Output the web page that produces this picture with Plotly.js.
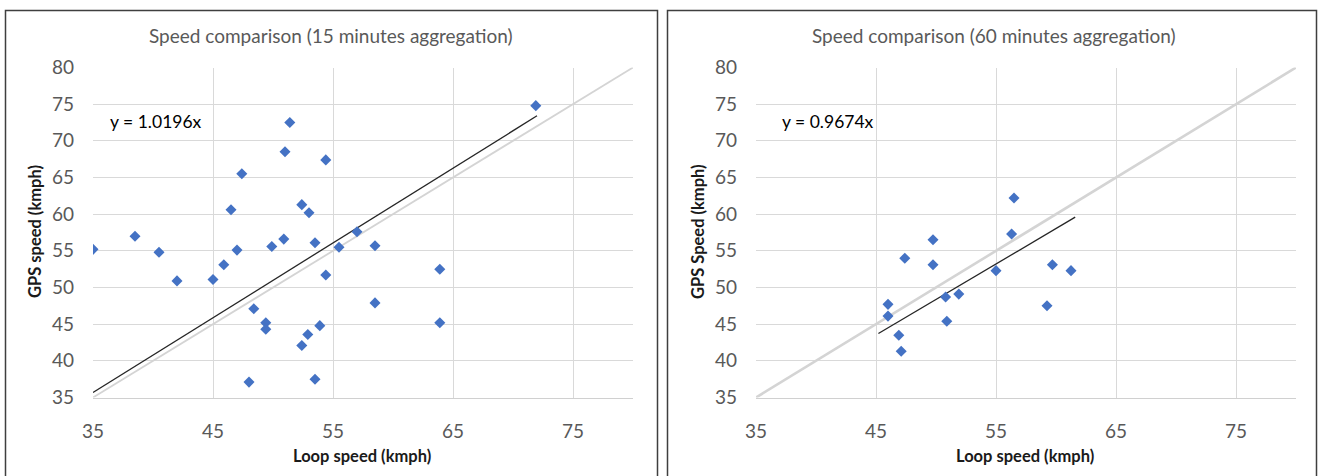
<!DOCTYPE html>
<html>
<head>
<meta charset="utf-8">
<script src="https://cdn.plot.ly/plotly-3.0.1.min.js"></script>
<style>html,body{margin:0;padding:0;background:#fff;}#chart{width:1320px;height:476px;}</style>
</head>
<body>
<div id="chart"></div>
<script>
// ---- data ----
const loop15 = [35.0,38.5,40.5,42.0,45.0,45.9,46.5,47.0,47.4,48.0,48.4,49.4,49.4,49.9,50.9,51.0,51.4,52.4,53.0,52.4,52.9,53.5,53.5,53.9,54.4,54.4,55.5,57.0,58.5,58.5,63.9,63.9,71.9];
const gps15  = [55.2,57.0,54.8,50.9,51.1,53.1,60.6,55.1,65.5,37.1,47.1,45.2,44.3,55.6,56.6,68.5,72.5,61.3,60.2,42.1,43.6,37.5,56.1,44.8,67.4,51.7,55.5,57.6,55.7,47.9,52.5,45.2,74.8];
const loop60 = [46.0,46.0,46.9,47.1,47.4,49.75,49.75,50.8,50.9,51.9,55.0,56.3,56.5,59.25,59.7,61.25];
const gps60  = [47.7,46.1,43.5,41.3,54.0,56.5,53.1,48.7,45.4,49.1,52.3,57.3,62.2,47.5,53.1,52.3];
const slope15 = 1.0196;
const slope60 = 0.9674;
const trendRange15 = [35.0, 72.0];
const trendRange60 = [45.2, 61.6];
const identityRange = [35, 80];
const xTicks = [35, 45, 55, 65, 75];
const titles = ["Speed comparison (15 minutes aggregation)", "Speed comparison (60 minutes aggregation)"];
const equations = ["y = " + slope15.toFixed(4) + "x", "y = " + slope60.toFixed(4) + "x"];
const xTitle = "Loop speed (kmph)";
const yTitles = ["GPS speed (kmph)", "GPS Speed (kmph)"];

const W = 1320, H = 476;
const px = v => v / W;
const py = v => 1 - v / H;
const FONT = "Lato, 'Open Sans', 'Liberation Sans', sans-serif";
const MARK = '#4472C4';

function traces(xs, ys, slope, tr, xa, ya, idWidth) {
  return [
    {x: identityRange, y: identityRange, mode: 'lines', line: {color: '#d4d4d4', width: idWidth}, xaxis: xa, yaxis: ya, hoverinfo: 'skip'},
    {x: tr, y: tr.map(v => v * slope), mode: 'lines', line: {color: '#262626', width: 1.3}, xaxis: xa, yaxis: ya},
    {x: xs, y: ys, mode: 'markers', marker: {symbol: 'diamond', size: 8.5, color: MARK}, xaxis: xa, yaxis: ya}
  ];
}

const data = [
  ...traces(loop15, gps15, slope15, trendRange15, 'x', 'y', 1.8),
  ...traces(loop60, gps60, slope60, trendRange60, 'x2', 'y2', 2.6)
];

const yDom = [py(397.5), py(67.5)];
function xAxis(dom, anchor) {
  return {domain: dom, anchor: anchor, range: [35, 80], tickvals: xTicks, showgrid: true,
    gridcolor: '#d9d9d9', gridwidth: 1, zeroline: false, showline: true, linecolor: '#d0d0d0', linewidth: 1.3,
    ticks: '', ticklabelstandoff: 16, tickfont: {family: FONT, size: 19, color: '#595959'}, fixedrange: true};
}
function yAxis(anchor) {
  return {domain: yDom, anchor: anchor, range: [35, 80], dtick: 5, tick0: 35, showgrid: true,
    gridcolor: '#d9d9d9', gridwidth: 1, zeroline: false, showline: false,
    ticks: '', ticklabelstandoff: 18, tickfont: {family: FONT, size: 19, color: '#595959'}, fixedrange: true};
}

const ann = [];
const panels = [{cx: 331, eqx: 108, ytx: 35, xtx: 362}, {cx: 994, eqx: 780, ytx: 698, xtx: 1025}];
panels.forEach((p, i) => {
  ann.push({xref: 'paper', yref: 'paper', x: px(p.cx), y: py(36), xanchor: 'center', yanchor: 'middle', showarrow: false,
    text: titles[i], font: {family: FONT, size: 19, color: '#595959'}});
  ann.push({xref: 'paper', yref: 'paper', x: px(p.eqx), y: py(121), xanchor: 'left', yanchor: 'middle', showarrow: false,
    text: equations[i], font: {family: FONT, size: 17.5, color: '#000000'}});
  ann.push({xref: 'paper', yref: 'paper', x: px(p.xtx), y: py(456), xanchor: 'center', yanchor: 'middle', showarrow: false,
    text: '<b>' + xTitle + '</b>', font: {family: FONT, size: 16.5, color: '#1a1a1a'}});
  ann.push({xref: 'paper', yref: 'paper', x: px(p.ytx), y: py(232), xanchor: 'center', yanchor: 'middle', showarrow: false, textangle: -90,
    text: '<b>' + yTitles[i] + '</b>', font: {family: FONT, size: 16.5, color: '#1a1a1a'}});
});

const shapes = [
  {type: 'rect', xref: 'paper', yref: 'paper', x0: px(5.5), x1: px(657.5), y0: -0.05, y1: py(10.5), line: {color: '#3f3f3f', width: 1.5}},
  {type: 'rect', xref: 'paper', yref: 'paper', x0: px(667.5), x1: px(1316.5), y0: -0.05, y1: py(10.5), line: {color: '#3f3f3f', width: 1.5}}
];

const layout = {
  width: W, height: H, margin: {l: 0, r: 0, t: 0, b: 0}, showlegend: false,
  paper_bgcolor: '#ffffff', plot_bgcolor: '#ffffff',
  xaxis: xAxis([px(93), px(633)], 'y'),
  yaxis: yAxis('x'),
  xaxis2: xAxis([px(756), px(1296)], 'y2'),
  yaxis2: yAxis('x2'),
  annotations: ann, shapes: shapes,
  font: {family: FONT}
};

Plotly.newPlot('chart', data, layout, {staticPlot: true, displayModeBar: false});
</script>
</body>
</html>
